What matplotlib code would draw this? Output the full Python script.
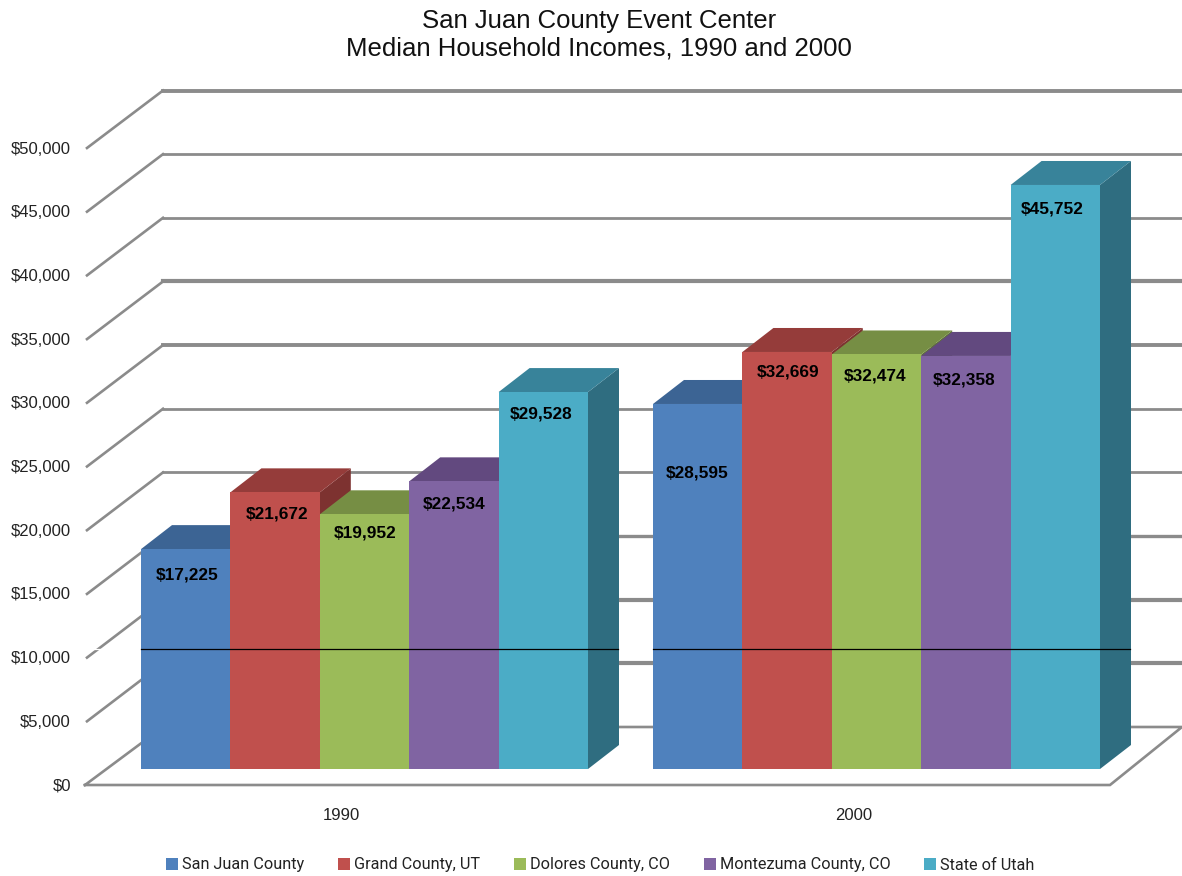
import matplotlib
matplotlib.use("Agg")
import matplotlib.pyplot as plt
from matplotlib.patches import Polygon, Patch

# ---- data ----
title = "San Juan County Event Center\nMedian Household Incomes, 1990 and 2000"
years = ["1990", "2000"]
series = ["San Juan County", "Grand County, UT", "Dolores County, CO", "Montezuma County, CO", "State of Utah"]
income_1990 = [17225, 21672, 19952, 22534, 29528]
income_2000 = [28595, 32669, 32474, 32358, 45752]
ticks = [0, 5000, 10000, 15000, 20000, 25000, 30000, 35000, 40000, 45000, 50000]
colors = ["#4f81bd", "#c0504d", "#9bbb59", "#8064a2", "#4bacc6"]
tops = ["#3c6494", "#953c3a", "#768e44", "#62497f", "#38839a"]
sides = ["#2f5480", "#7d3230", "#5f7336", "#4f3a68", "#2f6d80"]

# ---- layout (pixels) ----
W, H = 1182, 876
K = 0.012765                    # pixels per dollar
BASE = 769                      # pixel row of the bars' zero
def py(p):                      # pixel row -> value units
    return (BASE - p) / K
group_left = [141, 653]
bar_w = 89.4
dep_x, dep_y = 31, 24 / K
label_drop = [[26, 22, 19, 23, 22], [69, 20, 22, 24, 24]]
label_nudge = [[1, 1.5, 0.5, 0, -2.5], [-0.5, 0.5, -1.5, -1.5, -3]]

fig = plt.figure(figsize=(W / 100, H / 100), dpi=100, facecolor="white")
ax = fig.add_axes([0, 0, 1, 1])
ax.set_xlim(0, W)
ax.set_ylim(py(H), py(0))
ax.set_autoscale_on(False)
ax.axis("off")

FONT = "Liberation Sans"
GRID = "#8b8b8b"
thick = {5000: 3.0, 10000: 3.0, 15000: 2.4, 30000: 2.8, 35000: 3.0, 50000: 2.8}

# walls and floor
for t in ticks:
    front = py(785 - t * 0.012740)
    back = py(727 - t * 0.012730)
    if t == 0:
        ax.plot([85, 163, 1182, 1110, 85],
                [front, back, back, front, front],
                color=GRID, lw=1.9, zorder=1, solid_joinstyle="miter")
    else:
        ax.plot([87, 163], [front, back], color=GRID, lw=1.9, zorder=1)
        ax.plot([163, W], [back, back], color=GRID, lw=thick.get(t, 2.0), zorder=1)
    ax.text(71, front - 1 / K, f"${t:,}", ha="right", va="center", fontsize=12,
            family=FONT, color="#222222", zorder=1)

# bars
for g, vals in enumerate([income_1990, income_2000]):
    for i, v in enumerate(vals):
        x0 = group_left[g] + i * bar_w
        z = 2 + i * 0.1
        ax.add_patch(Polygon([(x0 + bar_w, 0), (x0 + bar_w + dep_x, dep_y),
                              (x0 + bar_w + dep_x, v + dep_y), (x0 + bar_w, v)],
                             fc=sides[i], ec="none", zorder=z))
        ax.add_patch(Polygon([(x0, v), (x0 + dep_x, v + dep_y),
                              (x0 + bar_w + dep_x, v + dep_y), (x0 + bar_w, v)],
                             fc=tops[i], ec="none", zorder=z))
        ax.bar(x0, v, width=bar_w, align="edge", color=colors[i], zorder=z + 0.01)
        ax.text(x0 + bar_w / 2 + label_nudge[g][i], v - label_drop[g][i] / K, f"${v:,}",
                ha="center", va="center", fontsize=12.4, fontweight="bold", family=FONT,
                color="black", zorder=5)

# dark rule across both groups, with the pale break left of the first group
ax.plot([88, 141], [py(648.5)] * 2, color="white", lw=0.9, zorder=1.5)
for x0 in group_left:
    ax.plot([x0, x0 + 5 * bar_w + dep_x - 1], [py(648.5)] * 2, color="black", lw=0.9, zorder=4)

# category labels
for g, y in enumerate(years):
    ax.text(group_left[g] + 5 * bar_w / 2 - 23, py(815.5), y, ha="center", va="center",
            fontsize=12, family=FONT, color="#222222")

ax.text(599, py(35), title, ha="center", va="center", fontsize=18.5, family=FONT,
        color="#111111", linespacing=1.2)

handles = [Patch(fc=c, ec="none", label=s) for c, s in zip(colors, series)]
ax.legend(handles=handles, ncol=5, loc="center", bbox_to_anchor=(600.5 / W, 1 - 865 / H),
          bbox_transform=fig.transFigure, frameon=False,
          prop={"family": "Roboto", "size": 11.7}, handlelength=0.73, handleheight=0.73,
          handletextpad=0.25, columnspacing=2.08, labelcolor="#222222")

fig.savefig("out.png", dpi=100, facecolor="white")
